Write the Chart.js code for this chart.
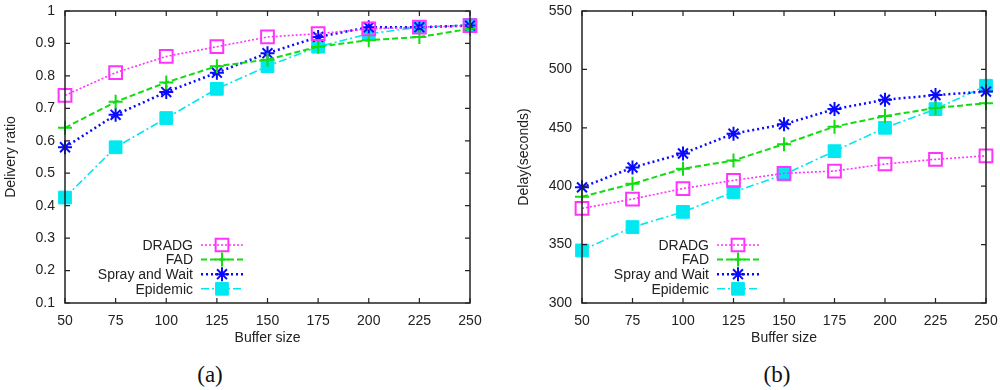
<!DOCTYPE html>
<html>
<head>
<meta charset="utf-8">
<script src="https://cdn.jsdelivr.net/npm/chart.js@4/dist/chart.umd.min.js"></script>
<style>
    html, body { margin: 0; padding: 0; background: #fff; }
    #wrap { position: relative; width: 1000px; height: 390px; overflow: hidden; }
    .box { position: absolute; top: 0; height: 350px; }
    .cap { position: absolute; top: 362px; font-family: 'Liberation Serif', 'Times New Roman', serif; font-size: 23px; color: #111; transform: translateX(-50%); }
</style>
</head>
<body>
<div id="wrap">
    <div class="box" style="left:0; width:490px;"><canvas id="ratioChart"></canvas></div>
    <div class="box" style="left:500px; width:500px;"><canvas id="delayChart"></canvas></div>
    <div class="cap" style="left:210px;">(a)</div>
    <div class="cap" style="left:777px;">(b)</div>
</div>
<script>
// x axis
const bufferSizes = ['50', '75', '100', '125', '150', '175', '200', '225', '250'];
const seriesNames = ['DRADG', 'FAD', 'Spray and Wait', 'Epidemic'];

// (a) delivery ratio
const dradgRatio    = [0.74, 0.81, 0.86, 0.89, 0.92, 0.93, 0.945, 0.95, 0.955];
const fadRatio      = [0.64, 0.72, 0.78, 0.83, 0.85, 0.89, 0.91, 0.92, 0.945];
const sprayRatio    = [0.58, 0.68, 0.75, 0.81, 0.87, 0.92, 0.95, 0.95, 0.955];
const epidemicRatio = [0.425, 0.58, 0.67, 0.76, 0.83, 0.89, 0.93, 0.95, 0.957];

// (b) delay in seconds
const dradgDelay    = [381, 389, 398, 405, 411, 413, 419, 423, 426];
const fadDelay      = [391, 402, 415, 422, 436, 451, 460, 467, 471];
const sprayDelay    = [399, 416, 428, 445, 453, 466, 474, 478, 481];
const epidemicDelay = [345, 365, 378, 395, 410, 430, 450, 466, 486];

const fontFamily = "'Liberation Sans', Arial, sans-serif";
Chart.defaults.font.family = fontFamily;
Chart.defaults.color = '#222';

const seriesStyles = [
    { color: '#ff33ff', dash: [2, 2], width: 1.6, point: 'rect', radius: 9, fill: 'rgba(0,0,0,0)', pw: 2 },
    { color: '#11dd11', dash: [6, 3], width: 2, point: 'cross', radius: 7, fill: '#11dd11', pw: 2 },
    { color: '#0a0aff', dash: [2, 3], width: 2.5, point: 'star', radius: 7, fill: '#0a0aff', pw: 2 },
    { color: '#00e8f0', dash: [8, 3, 2, 3], width: 1.6, point: 'rect', radius: 9, fill: '#00e8f0', pw: 1 }
];

function makeDatasets(valueLists) {
    return valueLists.map((vals, i) => {
        const s = seriesStyles[i];
        return {
            label: seriesNames[i],
            data: vals,
            borderColor: s.color,
            borderWidth: s.width,
            borderDash: s.dash,
            backgroundColor: s.fill,
            pointStyle: s.point,
            pointRadius: s.radius,
            pointBorderColor: s.color,
            pointBackgroundColor: s.fill,
            pointBorderWidth: s.pw,
            tension: 0,
            fill: false,
            clip: false
        };
    });
}

// gnuplot-like frame with inward ticks on all four sides
const framePlugin = {
    id: 'frame',
    afterDraw(chart) {
        const { ctx, chartArea: a, scales } = chart;
        const tick = 5;
        ctx.save();
        ctx.strokeStyle = '#222';
        ctx.lineWidth = 1.5;
        ctx.strokeRect(a.left, a.top, a.right - a.left, a.bottom - a.top);
        ctx.lineWidth = 1.2;
        ctx.beginPath();
        scales.x.ticks.forEach((t, i) => {
            const x = scales.x.getPixelForTick(i);
            ctx.moveTo(x, a.bottom); ctx.lineTo(x, a.bottom - tick);
            ctx.moveTo(x, a.top); ctx.lineTo(x, a.top + tick);
        });
        scales.y.ticks.forEach((t, i) => {
            const y = scales.y.getPixelForTick(i);
            ctx.moveTo(a.left, y); ctx.lineTo(a.left + tick, y);
            ctx.moveTo(a.right, y); ctx.lineTo(a.right - tick, y);
        });
        ctx.stroke();
        ctx.restore();
    }
};

// legend inside plot: right-aligned text, then line sample with marker
const innerLegend = {
    id: 'innerLegend',
    afterDatasetsDraw(chart, args, opts) {
        const { ctx } = chart;
        ctx.save();
        ctx.font = '14px ' + fontFamily;
        ctx.textAlign = 'right';
        ctx.textBaseline = 'middle';
        chart.data.datasets.forEach((ds, i) => {
            const y = opts.y + i * 14.6;
            ctx.fillStyle = '#222';
            ctx.fillText(ds.label, opts.x, y + 1);
            ctx.strokeStyle = ds.borderColor;
            ctx.lineWidth = ds.borderWidth;
            ctx.setLineDash(ds.borderDash);
            ctx.beginPath();
            ctx.moveTo(opts.x + 8, y);
            ctx.lineTo(opts.x + 50, y);
            ctx.stroke();
            ctx.setLineDash([]);
            ctx.fillStyle = ds.pointBackgroundColor;
            ctx.strokeStyle = ds.pointBorderColor;
            ctx.lineWidth = ds.pointBorderWidth;
            Chart.helpers.drawPoint(ctx, {
                pointStyle: ds.pointStyle,
                radius: ds.pointRadius,
                rotation: 0,
                borderWidth: ds.pointBorderWidth
            }, opts.x + 29, y);
        });
        ctx.restore();
    }
};

function buildChart(id, valueLists, yOpts, axisWidth, rightPad, titlePad, legendX) {
    return new Chart(document.getElementById(id), {
        type: 'line',
        data: { labels: bufferSizes, datasets: makeDatasets(valueLists) },
        options: {
            responsive: true,
            maintainAspectRatio: false,
            animation: false,
            layout: { padding: { top: 5, right: rightPad, left: 0, bottom: 0 } },
            plugins: {
                legend: { display: false },
                tooltip: { enabled: false },
                innerLegend: { x: legendX, y: 245 }
            },
            scales: {
                x: {
                    offset: false,
                    grid: { display: false },
                    border: { display: false },
                    ticks: { padding: 2, maxRotation: 0, autoSkip: false, font: { size: 14 }, color: '#222' },
                    title: { display: true, text: 'Buffer size', font: { size: 14 }, color: '#222', padding: { top: 3, bottom: 3 } },
                    afterFit(scale) { scale.height = 47; }
                },
                y: {
                    min: yOpts.min,
                    max: yOpts.max,
                    grid: { display: false },
                    border: { display: false },
                    ticks: {
                        stepSize: yOpts.step, padding: 2, font: { size: 14 }, color: '#222',
                        callback: (v) => String(Number(v.toFixed(1)))
                    },
                    title: { display: true, text: yOpts.title, font: { size: 14 }, color: '#222', padding: { top: titlePad, bottom: 0 } },
                    afterFit(scale) { scale.width = axisWidth; }
                }
            }
        },
        plugins: [framePlugin, innerLegend]
    });
}

buildChart('ratioChart', [dradgRatio, fadRatio, sprayRatio, epidemicRatio],
    { min: 0.1, max: 1, step: 0.1, title: 'Delivery ratio' }, 65, 20, 3, 193);

buildChart('delayChart', [dradgDelay, fadDelay, sprayDelay, epidemicDelay],
    { min: 300, max: 550, step: 50, title: 'Delay(seconds)' }, 82, 14, 16, 209);
</script>
</body>
</html>
